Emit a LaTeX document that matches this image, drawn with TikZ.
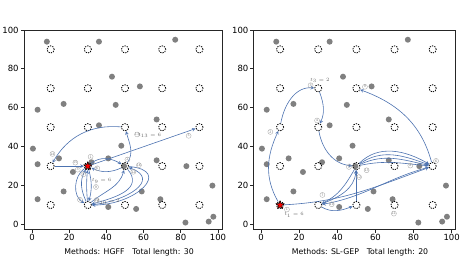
\documentclass[tikz,border=0pt]{standalone}
\usepackage{fontspec}
\setmainfont{DejaVu Sans}
\usetikzlibrary{shapes.geometric}
\definecolor{routeblue}{RGB}{76,114,176}
\definecolor{custgray}{RGB}{128,128,128}
\tikzset{
  axis/.style={draw=black!85,line width=0.8pt},
  ticklab/.style={font=\fontsize{8.5}{10}\selectfont,inner sep=1.5pt},
  caption/.style={font=\fontsize{7.8}{9}\selectfont,inner sep=0pt},
  slot/.style={circle,draw=black,dashed,dash pattern=on 1.3pt off 1.1pt,line width=0.8pt,minimum size=7.2pt,inner sep=0pt},
  cust/.style={circle,fill=custgray,minimum size=6pt,inner sep=0pt},
  depot/.style={star,star points=5,star point ratio=2.3,fill=red,draw=black,line width=0.5pt,minimum size=8.5pt,inner sep=0pt},
  route/.style={draw=routeblue,line width=0.6pt,->,>=stealth},
  tag/.style={circle,draw=gray!70,text=gray,line width=0.35pt,inner sep=0pt,minimum size=5pt,font=\fontsize{3.3}{3.3}\selectfont},
  tnote/.style={text=gray!80!black,inner sep=0pt,font=\fontsize{4}{4}\selectfont}
}
\begin{document}
\begin{tikzpicture}
  \useasboundingbox (0,0) rectangle (467pt,263pt);

  % left panel
  \begin{scope}[shift={(32pt,38.5pt)},x=1.86pt,y=1.945pt]
    \draw[axis] (-4.3,-2.4) rectangle (102.5,100);
    \foreach \v in {0,20,...,100} {
      \draw[axis] (\v,-2.4) -- ++(0,-3.5pt) node[below,ticklab] (ax\v) {\v};
      \draw[axis] (-4.3,\v) -- ++(-3.5pt,0) node[left,ticklab] (ay\v) {\v};
    }
    \foreach \x/\y [count=\k] in {8/94,36/94,77/95,43/76,58/71,3/59,17/62,45/61.5,67/54,36/51,0.5/39,48/40.5,3/31,14.5/34,41/34,67/33,83/30,22/27,32/32,49.5/30,17/17,59/17,97/20,3/13,69/13,41/9,56/8,82.5/1,95/1.5,97.5/4}
      \node[cust] (ac\k) at (\x,\y) {};
    \foreach \i in {1,...,5}
      \foreach \j in {1,...,5}
        \node[slot] (a\i\j) at ({20*\i-10},{20*\j-10}) {};
    \node[depot] (ad) at (30,30) {};

    \draw[route] (a22) to[out=40,in=150] (a32);
    \draw[route] (a32) to[out=-155,in=-25] (a22);
    \draw[route] (a22) -- (a53);
    \draw[route] (a32) to[out=55,in=-75] (a33);
    \draw[route] (a33) to[out=175,in=60] (a12);
    \draw[route] (a12) -- (a22);
    \draw[route] (a22) to[out=-145,in=150] (a21);
    \draw[route] (a21) to[out=115,in=-120] (a22);
    \draw[route] (a22) to[out=-75,in=75] (a21);
    \draw[route] (a21) to[out=95,in=-95] (a22);
    \draw[route] (a21) to[out=40,in=-105] (a32);
    \draw[route] (a32) to[out=-50,in=15,looseness=1.3] (a21);
    \draw[route] (a21) to[out=5,in=-20,looseness=1.7] (a32);
    \draw[route] (a32) to[out=-5,in=0,looseness=2.1] (a21);

    \node[tag] (at14) at (11,36.3) {14};
    \node[tag] (at15) at (23.3,31.8) {15};
    \node[tag] (at1) at (31.5,34.8) {1};
    \node[tag] (at2) at (51.3,33.4) {2};
    \node[tag] (at16) at (57.5,30.5) {16};
    \node[tag] (at12) at (54.5,27.1) {12};
    \node[tag] (at6) at (35.1,28.9) {6};
    \node[tag] (at3) at (24.6,28.2) {3};
    \node[tag] (at4) at (27.6,25.8) {4};
    \node[tag] (at9) at (34.4,19.3) {9};
    \node[tnote] (atn9) at (37.4,22.4) {$t_9=6$};
    \node[tag] (at7) at (25.8,12.7) {7};
    \node[tag] (at10) at (34.8,12.6) {10};
    \node[tnote] (atn10) at (41,11.7) {$t_{10}=2$};
    \node[tag] (at13) at (56.5,46.3) {13};
    \node[tnote] (atn13) at (63.2,45.7) {$t_{13}=6$};
    \node[tag] (at5) at (84.2,45.6) {5};

    \node[caption] (acap) at (52.2,-14.1) {Methods: HGFF\quad Total length: 30};
  \end{scope}

  % right panel
  \begin{scope}[shift={(261pt,38.5pt)},x=1.907pt,y=1.945pt]
    \draw[axis] (-3.8,-2.4) rectangle (102.1,100);
    \foreach \v in {0,20,...,100} {
      \draw[axis] (\v,-2.4) -- ++(0,-3.5pt) node[below,ticklab] (bx\v) {\v};
      \draw[axis] (-3.8,\v) -- ++(-3.5pt,0) node[left,ticklab] (by\v) {\v};
    }
    \foreach \x/\y [count=\k] in {8/94,36/94,77/95,43/76,58/71,3/59,17/62,45/61.5,67/54,36/51,0.5/39,48/40.5,3/31,14.5/34,41/34,67/33,83/30,22/27,32/32,49.5/30,17/17,59/17,97/20,3/13,69/13,41/9,56/8,82.5/1,95/1.5,97.5/4}
      \node[cust] (bc\k) at (\x,\y) {};
    \foreach \i in {1,...,5}
      \foreach \j in {1,...,5}
        \node[slot] (b\i\j) at ({20*\i-10},{20*\j-10}) {};
    \node[depot] (bd) at (10,10) {};

    \draw[route] (b11) to[out=120,in=-115] (b13);
    \draw[route] (b13) to[out=80,in=175] (b24);
    \draw[route] (b24) to[out=-70,in=65] (b23);
    \draw[route] (b23) to[out=-80,in=175] (b32);
    \draw[route] (b32) to[out=45,in=150] (b52);
    \draw[route] (b32) to[out=35,in=160] (b52);
    \draw[route] (b32) to[out=25,in=168] (b52);
    \draw[route] (b32) to[out=12,in=175] (b52);
    \draw[route] (b52) to[out=105,in=-20] (b34);
    \draw[route] (b31) -- (b32);
    \draw[route] (b21) to[out=-30,in=-160] (b31);
    \draw[route] (b52) to[out=-165,in=10] (b21);
    \draw[route] (b11) to[out=3,in=-160] (b52);
    \draw[route] (b32) to[out=-120,in=25] (b21);
    \draw[route] (b21) to[out=20,in=-95] (b32);

    \node[tag] (bt1) at (13.6,7.7) {1};
    \node[tnote] (btn1) at (17.3,4.9) {$t_1=6$};
    \node[tag] (bt2) at (4.9,47.6) {2};
    \node[tag] (bt3) at (26,71.6) {3};
    \node[tnote] (btn3) at (30.8,74.2) {$t_3=2$};
    \node[tag] (bt4) at (29.4,53.5) {4};
    \node[tag] (bt5) at (46.1,29.6) {5};
    \node[tag] (bt6) at (91.8,32.7) {6};
    \node[tag] (bt8) at (78.3,30.3) {8};
    \node[tag] (bt9) at (54.5,70.8) {9};
    \node[tag] (bt13) at (55.4,27.9) {13};
    \node[tag] (bt12) at (51.4,24.4) {12};
    \node[tag] (bt7) at (32.2,15.2) {7};
    \node[tag] (bt10) at (37.1,10.4) {10};
    \node[tag] (bt11) at (69.7,5.6) {11};

    \node[caption] (bcap) at (51.9,-14.1) {Methods: SL-GEP\quad Total length: 20};
  \end{scope}
\end{tikzpicture}
\end{document}
